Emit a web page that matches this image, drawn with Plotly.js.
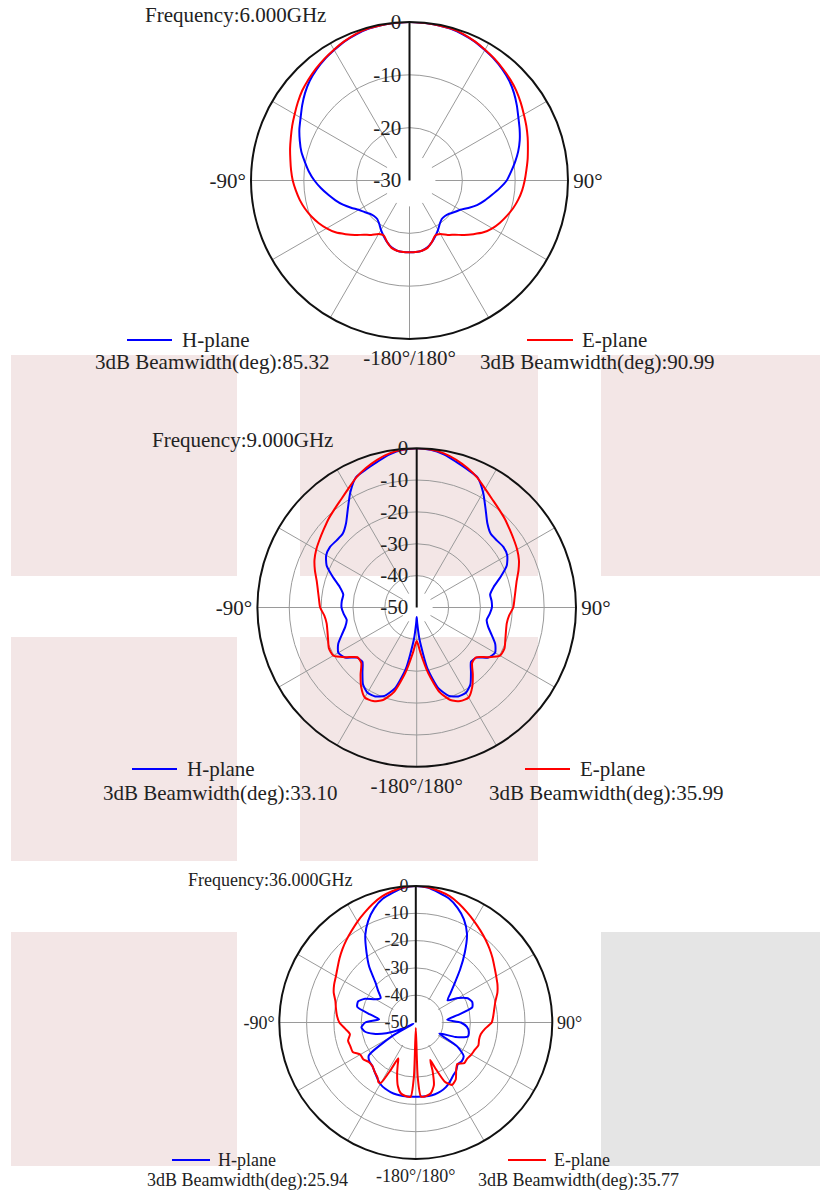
<!DOCTYPE html>
<html><head><meta charset="utf-8">
<script src="https://cdn.plot.ly/plotly-3.0.1.min.js"></script>
<style>html,body{margin:0;padding:0;background:#fff}#chart{width:820px;height:1195px}</style>
</head><body><div id="chart"></div>
<script>
// ---------- DATA ----------
// Plot 1: 6 GHz, theta in degrees (0 = boresight, clockwise positive)
const theta6 = [-180,-175,-170,-165,-160,-155,-150,-145,-140,-135,-130,-125,-120,-115,-110,-105,-100,-95,-90,-85,-80,-75,-70,-65,-60,-55,-50,-45,-40,-35,-30,-25,-20,-15,-10,-5,0,5,10,15,20,25,30,35,40,45,50,55,60,65,70,75,80,85,90,95,100,105,110,115,120,125,130,135,140,145,150,155,160,165,170,175,180];
const h6 = [-16.4,-16.4,-16.5,-16.9,-17.6,-18.4,-19.2,-20.0,-20.5,-20.5,-20.2,-19.6,-18.9,-17.8,-16.6,-15.5,-14.4,-13.2,-12.0,-10.9,-9.9,-8.8,-7.9,-7.0,-6.2,-5.2,-4.2,-3.3,-2.6,-2.0,-1.5,-0.95,-0.55,-0.25,-0.1,-0.05,0,-0.05,-0.1,-0.25,-0.55,-0.95,-1.5,-2.0,-2.6,-3.3,-4.2,-5.2,-6.2,-7.0,-7.8,-8.7,-9.7,-10.7,-11.6,-12.9,-14.2,-15.3,-16.4,-17.7,-18.9,-19.6,-20.2,-20.5,-20.5,-20.0,-19.2,-18.4,-17.6,-16.9,-16.5,-16.4,-16.4];
const e6 = [-16.4,-16.4,-16.5,-16.8,-17.6,-18.5,-18.3,-17.4,-16.6,-15.4,-14.2,-12.9,-11.9,-11.0,-10.2,-9.5,-8.9,-8.4,-7.9,-7.5,-7.1,-6.6,-6.1,-5.5,-4.9,-4.2,-3.5,-2.95,-2.4,-1.9,-1.4,-0.9,-0.45,-0.2,-0.1,-0.05,0,-0.05,-0.1,-0.2,-0.45,-0.9,-1.4,-1.9,-2.45,-3.0,-3.6,-4.3,-5.0,-5.6,-6.2,-6.8,-7.3,-7.8,-8.2,-8.6,-9.1,-9.7,-10.4,-11.1,-11.9,-12.9,-14.2,-15.4,-16.6,-17.4,-18.3,-18.5,-17.6,-16.8,-16.5,-16.4,-16.4];

// Plot 2: 9 GHz
const theta9 = [-180,-178,-175,-170,-165,-160,-155,-150,-145,-140,-135,-130,-125,-120,-115,-110,-105,-100,-95,-90,-85,-80,-75,-70,-65,-60,-55,-50,-45,-40,-35,-30,-25,-20,-15,-10,-5,0,5,10,15,20,25,30,35,40,45,50,55,60,65,70,75,80,85,90,95,100,105,110,115,120,125,130,135,140,145,150,155,160,165,170,175,178,180];
const h9 = [-47.0,-45.0,-40.0,-30.5,-23.8,-20.5,-19.2,-19.1,-20.6,-23.5,-25.9,-25.5,-22.6,-21.6,-22.8,-25.0,-26.8,-27.7,-27.0,-26.4,-26.4,-26.6,-25.0,-22.0,-18.8,-17.2,-16.8,-17.2,-17.2,-15.5,-12.3,-8.3,-4.9,-3.8,-2.6,-1.2,-0.3,0,-0.3,-1.2,-2.6,-3.8,-4.9,-8.3,-12.3,-15.5,-17.2,-17.2,-16.8,-17.2,-18.8,-22.0,-25.0,-26.6,-26.4,-26.4,-27.0,-27.7,-26.8,-25.0,-22.8,-21.6,-22.6,-25.5,-25.9,-23.5,-20.6,-19.1,-19.2,-20.5,-23.8,-30.5,-40.0,-45.0,-47.0];
const e9 = [-39.5,-38.5,-35.5,-29.0,-22.6,-19.1,-17.6,-17.4,-19.6,-22.6,-25.4,-25.7,-22.8,-19.8,-19.6,-20.4,-21.0,-21.3,-20.9,-19.7,-19.2,-18.5,-17.5,-16.0,-14.6,-13.6,-12.8,-11.9,-10.8,-9.8,-8.6,-7.0,-5.0,-3.4,-2.0,-0.9,-0.25,0,-0.25,-0.9,-2.0,-3.4,-5.0,-7.0,-8.6,-9.8,-10.8,-11.9,-12.8,-13.6,-14.6,-16.0,-17.5,-18.5,-19.2,-19.7,-20.9,-21.3,-21.0,-20.4,-19.6,-19.8,-22.8,-25.7,-25.4,-22.6,-19.6,-17.4,-17.6,-19.1,-22.6,-29.0,-35.5,-38.5,-39.5];

// Plot 3: 36 GHz
const theta36h = [-180,-175,-170,-165,-160,-155,-150,-145,-140,-135,-130,-125,-120,-118,-115,-110,-105,-100,-95,-90,-85,-80,-75,-70,-65,-60,-55,-50,-45,-40,-35,-30,-25,-20,-15,-10,-5,0,5,10,15,20,25,30,35,40,45,50,55,60,65,70,75,80,85,90,95,100,105,110,115,120,125,130,135,140,145,150,155,160,165,170,175,180];
const h36 = [-22.8,-22.8,-22.7,-22.7,-22.9,-23.3,-24.0,-25.3,-26.5,-27.5,-27.8,-29.0,-40.0,-49.0,-45.0,-38.5,-34.0,-31.0,-30.0,-31.5,-36.5,-33.0,-27.8,-27.5,-29.5,-33.0,-34.3,-32.0,-29.0,-23.5,-18.5,-13.0,-8.8,-5.5,-3.1,-1.7,-0.4,0,-0.4,-1.7,-3.0,-5.3,-8.3,-12.5,-18.7,-24.8,-30.0,-33.5,-35.8,-32.0,-29.0,-28.0,-28.6,-34.5,-38.5,-33.5,-31.2,-30.3,-30.3,-34.5,-40.5,-32.5,-28.6,-28.0,-28.3,-27.0,-26.2,-25.0,-23.9,-23.2,-22.8,-22.7,-22.8,-22.8];
const theta36e = [-180,-178,-176,-172,-168,-164,-160,-157,-154,-152,-150,-148,-145,-140,-135,-130,-125,-120,-115,-110,-105,-100,-95,-90,-85,-80,-75,-70,-65,-60,-55,-50,-45,-40,-35,-30,-25,-20,-15,-10,-5,0,5,10,15,20,25,30,35,40,45,50,55,60,65,70,75,80,85,90,95,100,105,110,115,120,125,130,135,140,145,150,154,157,159,161,164,168,172,176,178,180];
const e36 = [-48.0,-30.0,-22.7,-22.8,-23.5,-26.0,-30.0,-33.0,-35.4,-30.0,-24.5,-24.2,-25.5,-26.5,-27.5,-27.5,-26.5,-26.5,-24.5,-24.5,-24.3,-25.5,-24.0,-22.0,-21.0,-20.3,-19.5,-18.0,-17.0,-16.2,-15.0,-13.5,-12.0,-10.5,-9.0,-7.3,-5.6,-3.8,-2.2,-1.1,-0.3,0,-0.3,-1.1,-2.1,-3.7,-5.5,-7.2,-8.8,-10.3,-11.8,-13.3,-14.8,-16.0,-17.0,-18.2,-19.8,-20.8,-21.5,-22.2,-24.5,-25.8,-26.0,-25.6,-26.2,-26.5,-27.0,-26.8,-28.5,-27.0,-24.5,-23.6,-26.0,-32.0,-35.3,-31.0,-26.0,-23.5,-22.8,-22.8,-30.0,-48.0];

const radialTicks6 = [0,-10,-20,-30];
const radialTicks9 = [0,-10,-20,-30,-40,-50];
const radialTicks36 = [0,-10,-20,-30,-40,-50];
const angleTickVals = [90,180,270];
const angleTickText = ['90°','-180°/180°','-90°'];
const spokeAngles = [30,60,90,120,150,180,210,240,270,300,330];
const seriesNames = ['H-plane','E-plane'];
const titles = ['Frequency:6.000GHz','Frequency:9.000GHz','Frequency:36.000GHz'];
const beamH = ['3dB Beamwidth(deg):85.32','3dB Beamwidth(deg):33.10','3dB Beamwidth(deg):25.94'];
const beamE = ['3dB Beamwidth(deg):90.99','3dB Beamwidth(deg):35.99','3dB Beamwidth(deg):35.77'];

// ---------- LAYOUT HELPERS ----------
const W = 820, H = 1195;
const px = x => x / W, py = y => 1 - y / H;
const FONT = 'Liberation Serif, Times New Roman, serif';
const TXT = '#222';
const BLUE = '#0000ff', RED = '#ff0000';

const plots = [
  {id:'polar',  cx:409.5, cy:180.5, R:158.5, range:[-30,0], ticks:radialTicks6, rin:-25.1, fs:21,
   th:[theta6,theta6], h:h6, e:e6,
   title:{x:235.5,y:15}, leg:{y:340, hx0:127,hx1:172, htx:180, ex0:527,ex1:573, etx:580, by:362, hbx:211.5, ebx:597}},
  {id:'polar2', cx:416.7, cy:607.5, R:159.3, range:[-50,0], ticks:radialTicks9, rin:-45, fs:21,
   th:[theta9,theta9], h:h9, e:e9,
   title:{x:242,y:440}, leg:{y:769, hx0:132,hx1:177, htx:185, ex0:525,ex1:570, etx:578, by:793, hbx:219.5, ebx:606}},
  {id:'polar3', cx:415.8, cy:1022.5, R:136.5, range:[-50,0], ticks:radialTicks36, rin:-40.5, fs:18,
   th:[theta36h,theta36e], h:h36, e:e36,
   title:{x:270,y:880}, leg:{y:1160, hx0:172,hx1:210, htx:216, ex0:508,ex1:546, etx:552, by:1180, hbx:247, ebx:578}}
];

const data = [];
const layout = {
  width: W, height: H,
  margin: {l:0, r:0, t:0, b:0},
  paper_bgcolor: '#fff',
  showlegend: false,
  font: {family: FONT, color: TXT},
  shapes: [], annotations: []
};

// background blocks
const pink = '#f3e6e6', grey = '#e5e5e5';
const blocks = [
  [11,355,237,576,pink],[300,355,538,576,pink],[601,355,820,576,pink],
  [11,637,237,861,pink],[300,637,538,861,pink],
  [11,932,237,1166,pink],[601,932,820,1166,grey]
];
blocks.forEach(b => layout.shapes.push({type:'rect', xref:'paper', yref:'paper', layer:'below',
  x0:px(b[0]), x1:px(b[2]), y0:py(b[3]), y1:py(b[1]), fillcolor:b[4], line:{width:0}}));

plots.forEach((p, i) => {
  const sub = p.id;
  // spokes (angular grid, not reaching centre)
  const sr = [], st = [];
  spokeAngles.forEach(a => { sr.push(p.rin, p.range[1], null); st.push(a, a, null); });
  data.push({type:'scatterpolar', subplot:sub, mode:'lines', r:sr, theta:st,
    line:{color:'#9a9a9a', width:1}, hoverinfo:'skip', showlegend:false});
  data.push({type:'scatterpolar', subplot:sub, mode:'lines', name:seriesNames[0], r:p.h, theta:p.th[0],
    line:{color:BLUE, width:2, shape:'spline', smoothing:0.6}});
  data.push({type:'scatterpolar', subplot:sub, mode:'lines', name:seriesNames[1], r:p.e, theta:p.th[1],
    line:{color:RED, width:2, shape:'spline', smoothing:0.6}});

  layout[sub] = {
    domain: {x:[px(p.cx - p.R), px(p.cx + p.R)], y:[py(p.cy + p.R), py(p.cy - p.R)]},
    bgcolor: 'rgba(0,0,0,0)',
    angularaxis: {rotation:90, direction:'clockwise', tickmode:'array', tickvals:angleTickVals, ticktext:angleTickText,
      showgrid:false, showline:true, linecolor:'#111', linewidth:2, ticks:'',
      tickfont:{family:FONT, size:p.fs, color:TXT}},
    radialaxis: {range:p.range, angle:90, side:'counterclockwise', tickmode:'array', tickvals:p.ticks,
      ticktext:p.ticks.map(String), showline:true, linecolor:'#111', linewidth:2, ticks:'',
      gridcolor:'#9a9a9a', gridwidth:1, tickangle:90,
      tickfont:{family:FONT, size:p.fs, color:TXT}}
  };

  const L = p.leg;
  layout.annotations.push({xref:'paper', yref:'paper', x:px(p.title.x), y:py(p.title.y), text:titles[i],
    showarrow:false, xanchor:'center', yanchor:'middle', font:{family:FONT, size:p.fs, color:TXT}});
  layout.shapes.push({type:'line', xref:'paper', yref:'paper', x0:px(L.hx0), x1:px(L.hx1), y0:py(L.y), y1:py(L.y), line:{color:BLUE, width:2}});
  layout.shapes.push({type:'line', xref:'paper', yref:'paper', x0:px(L.ex0), x1:px(L.ex1), y0:py(L.y), y1:py(L.y), line:{color:RED, width:2}});
  layout.annotations.push({xref:'paper', yref:'paper', x:px(L.htx), y:py(L.y), text:seriesNames[0], showarrow:false,
    xanchor:'left', yanchor:'middle', font:{family:FONT, size:p.fs, color:TXT}});
  layout.annotations.push({xref:'paper', yref:'paper', x:px(L.etx), y:py(L.y), text:seriesNames[1], showarrow:false,
    xanchor:'left', yanchor:'middle', font:{family:FONT, size:p.fs, color:TXT}});
  layout.annotations.push({xref:'paper', yref:'paper', x:px(L.hbx), y:py(L.by), text:beamH[i], showarrow:false,
    xanchor:'center', yanchor:'middle', font:{family:FONT, size:p.fs, color:TXT}});
  layout.annotations.push({xref:'paper', yref:'paper', x:px(L.ebx), y:py(L.by), text:beamE[i], showarrow:false,
    xanchor:'center', yanchor:'middle', font:{family:FONT, size:p.fs, color:TXT}});
});

Plotly.newPlot('chart', data, layout, {staticPlot:true});
</script></body></html>
